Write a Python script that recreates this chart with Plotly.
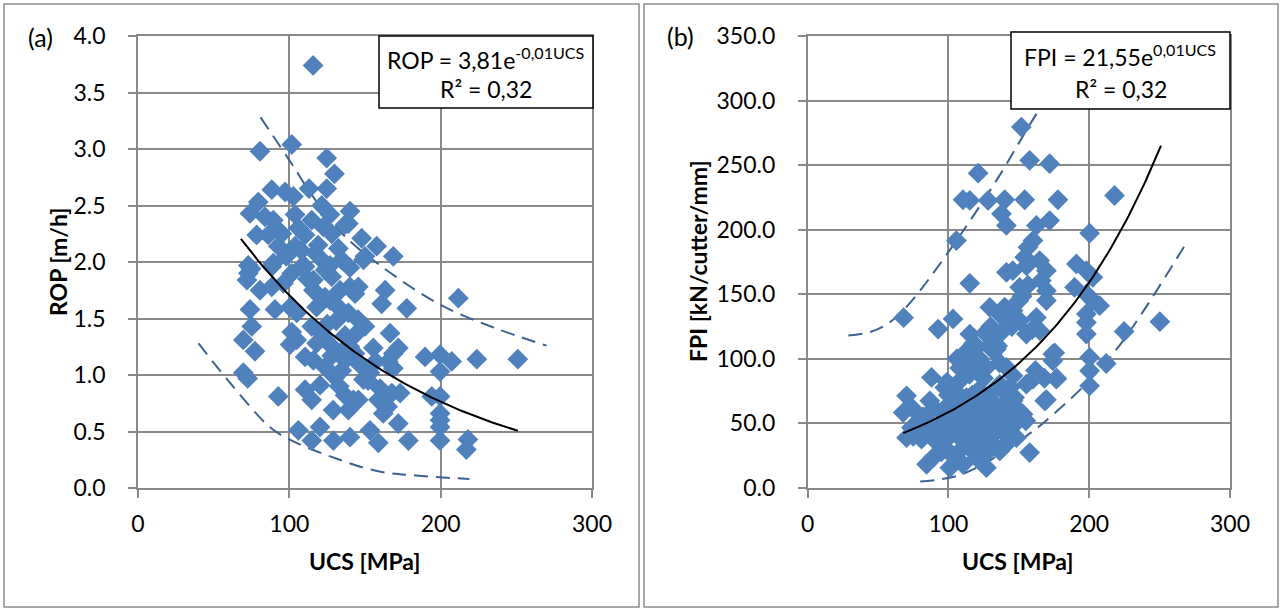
import numpy as np
import plotly.graph_objects as go

# ---------------- data: panel (a) ----------------
ucs_a = [115.7, 80.6, 101.6, 124.7, 129.8, 124.7, 113, 88.4, 97.2, 102.7, 79.5, 74, 83.9, 89.4, 103.8,
         121.4, 114.8, 140.1, 139, 78.4, 86.1, 92.7, 106, 110.4, 122.5, 128, 147.8, 92.7, 103.8, 117,
         132.4, 134.6, 150, 72.9, 89.4, 108.2, 123.6,
         211.7, 189.7, 199.6, 207.3, 223.9, 251, 199.6, 194.1, 199.6, 199.6, 199.6, 199.6, 199.6, 218,
         217, 168.7, 157.7, 149, 163.3, 161, 177.6, 149, 142.3, 155.5, 166.6, 172, 168.7, 165.4, 168.7,
         153.3, 149, 167.7, 173.2, 158.8, 162.1, 172, 153.3, 158.8, 178.7, 140.1, 142.3,
         72.9, 88.4, 80.6, 88.4, 96, 74, 90.5, 100.5, 104.9, 75.2, 69.6, 77.3, 101.6, 100.5, 104.9, 69.6,
         92.7, 110.4, 114.8, 106, 114.8, 120.3, 129.1, 110.4, 115.9, 123.6, 130.2, 134.6, 135.7, 121.4,
         114.8, 123.6, 115.9, 140.1, 145.6, 132.4, 139, 150, 143.4, 145.6, 139, 110.4, 123.6, 115.9,
         101.6, 128, 143.4,
         126.9, 136.8, 119, 126.9, 140, 133.5, 126.9, 145.4, 136.8, 126.9, 136.8, 146.7, 120.3, 136.8,
         128.9, 72.5, 72, 74.7,
         95, 98, 108, 112, 118, 131, 125, 118, 128, 140, 133, 152, 157, 160, 165]
rop_a = [3.74, 2.98, 3.04, 2.92, 2.78, 2.65, 2.65, 2.64, 2.62, 2.58, 2.53, 2.43, 2.40, 2.37, 2.42,
         2.50, 2.37, 2.45, 2.34, 2.24, 2.24, 2.28, 2.30, 2.24, 2.31, 2.25, 2.21, 2.14, 2.14, 2.08,
         2.12, 2.02, 2.05, 1.97, 1.99, 1.96, 1.99,
         1.68, 1.16, 1.18, 1.12, 1.14, 1.14, 1.03, 0.81, 0.81, 0.66, 0.60, 0.54, 0.42, 0.43,
         0.34, 2.05, 2.14, 2.02, 1.75, 1.63, 1.59, 1.43, 1.34, 1.24, 1.37, 1.24, 1.19, 1.12, 1.06,
         1.02, 0.96, 0.84, 0.84, 0.78, 0.66, 0.57, 0.51, 0.40, 0.42, 0.45, 0.78,
         1.90, 1.96, 1.75, 1.78, 1.81, 1.58, 1.58, 1.60, 1.55, 1.43, 1.31, 1.21, 1.38, 1.27, 1.31, 1.02,
         0.81, 0.87, 0.78, 0.51, 0.42, 0.54, 0.42, 1.16, 1.13, 1.07, 0.98, 1.04, 1.22, 1.37,
         1.43, 1.69, 1.75, 1.78, 1.78, 1.60, 1.55, 1.43, 1.19, 0.78, 0.69, 1.96, 1.93, 1.84,
         1.90, 1.87, 1.72,
         2.42, 2.33, 2.15, 1.97, 1.95, 1.75, 1.66, 1.49, 1.35, 1.27, 1.13, 1.09, 0.91, 0.82,
         0.69, 0.97, 1.84, 1.94,
         2.25, 2.05, 2.10, 1.85, 1.60, 1.48, 1.45, 1.28, 1.17, 1.25, 0.90, 0.95, 1.12, 0.88, 0.72]

# trend line (a): ROP = 3,81e^-0,01UCS (unrounded exponent)
trend_a_coef = 3.81
trend_a_exp = -0.00804
trend_a_range = [68, 251]

# dashed bands (a)
band_a_up_x = [81, 103, 114, 135, 160, 200, 235, 270]
band_a_up_y = [3.28, 2.84, 2.61, 2.25, 1.97, 1.62, 1.42, 1.26]
band_a_lo_x = [40, 59, 87, 100, 127, 158, 184, 219]
band_a_lo_y = [1.28, 0.96, 0.54, 0.43, 0.28, 0.15, 0.11, 0.08]

# ---------------- data: panel (b) ----------------
ucs_b = [151.8, 157.7, 171.9, 121.1, 110.4, 115.2, 128.2, 140, 154.2, 177.8, 218, 137.7, 141.2, 171.9,
         162.5, 105.7, 200.3, 160.1, 156.5, 154.2, 155.5, 164.8, 169.6, 190.9, 198, 202.6, 141.2, 150.6,
         156.5, 166, 169.6, 169.6, 115.2, 189.6, 198, 202.6, 207.4, 198, 198, 198, 103.3, 92.7, 129.4,
         136.5, 145.9, 150.6, 162.5, 164.8, 115.2, 136.5, 155.4, 120, 134.1, 174.2,
         174.2, 160.1, 176.7, 168.4, 200.3, 212.1, 200.3, 200.3, 157.7, 148.3, 145.9,
         224.8, 250.2, 68.2,
         70.3, 88, 67.9, 75, 73.8, 70.3, 84.5, 86.8, 97.4, 108.1, 101, 112.8, 80.9, 91.6, 101, 110.4,
         118.7, 124.6, 129.4, 136.5, 141.2, 127, 115.2, 131.8, 145.9, 143.5, 136.5, 129.4, 122.3, 115.2,
         108.1, 97.4, 89.1, 84.5, 101, 110.4, 127, 120, 136.5, 148.3, 153, 155.4,
         115, 95, 120, 130, 105, 140, 90, 100, 125, 115, 135, 120, 130, 140, 138, 145, 150, 112, 105,
         98, 85, 78, 92, 118, 108, 132, 145, 150, 155,
         136.3, 121.8, 133.4, 145.7, 152.3, 159.5, 168.2, 161.8, 169.6, 175.5, 176.9,
         75, 80, 82, 88, 93, 96, 99, 102, 104, 107, 109, 111, 113, 116, 117, 119, 121, 123, 124, 126,
         128, 131, 133, 134, 137, 139, 141, 142, 144, 147, 103, 95, 106, 118, 122, 126, 131, 112, 108, 99]
fpi_b = [279.5, 253.7, 251.1, 243.8, 223.2, 222.7, 222.7, 223.2, 223.2, 223.2, 226.5, 212.3, 203.3, 207.1,
         203.3, 191.6, 197.3, 191.6, 186.4, 178.7, 172, 176.1, 168.3, 173.5, 168.3, 163.1, 167, 155.4,
         157, 160.6, 152.8, 145.1, 158.5, 155.4, 150.3, 145.1, 141.2, 134.8, 128.2, 119.2, 130.9, 123.1, 139.9,
         134.8, 137.3, 129.6, 132.1, 121.8, 119.2, 119.2, 119.2, 108.8, 107.6, 103.7,
         98.5, 84.3, 84.3, 67.5, 101.1, 96.4, 90.8, 79.1, 27.4, 58.4, 86.9,
         121.2, 128.8, 131.9,
         71.4, 85.6, 58.4, 61, 46.8, 39, 52, 67.5, 77.8, 83, 64.9, 70, 37.8, 41.7, 44.2, 52,
         54.5, 62.3, 72.7, 80.4, 93.3, 93.3, 101.1, 106.3, 67.5, 54.5, 46.8, 36.5, 31.3, 36.5,
         28.7, 31.3, 23.5, 18.4, 15.7, 18.4, 15.7, 23.5, 28.7, 39, 57.2, 80.4,
         55, 50, 65, 48, 60, 42, 62, 72, 85, 88, 110, 95, 125, 140, 133, 125, 145, 105, 75,
         55, 45, 50, 35, 40, 45, 58, 47, 60, 52,
         97, 76, 119.7, 168.3, 148.4, 122.7, 85, 91, 68.4, 104.7, 85,
         40, 45, 55, 48, 42, 60, 38, 50, 68, 58, 38, 62, 45, 30, 72, 48, 58, 42, 52, 68,
         28, 40, 65, 52, 62, 75, 48, 35, 78, 70, 25, 28, 100, 112, 100, 120, 112, 90, 93, 82]

trend_b_coef = 21.55
trend_b_exp = 0.01
trend_b_range = [68, 251]

band_b_up_x = [29, 45, 58, 70, 80, 106, 134, 161, 172]
band_b_up_y = [118, 121, 128, 140, 153, 192, 238, 287, 305]
band_b_lo_x = [80, 106, 129, 139, 155, 167, 199, 224, 268]
band_b_lo_y = [5, 9.3, 21, 28.7, 40, 50, 82, 114, 188]

# ---------------- styling ----------------
W, H = 1281, 610
FONT = "Lato"
BLUE = "#4F81BD"
DASH_C = "#3B6290"
GRID = "#898989"


def px(x):
    return x / W


def py(y):
    return 1 - y / H


fig = go.Figure()


def add_panel(xs, ys, tc, te, trng, ux, uy, lx, ly, xa, ya):
    for bx, by in ((ux, uy), (lx, ly)):
        fig.add_trace(go.Scatter(x=bx, y=by, mode="lines",
                                 line=dict(color=DASH_C, width=2, dash="14px,8px", shape="spline"),
                                 xaxis=xa, yaxis=ya, hoverinfo="skip"))
    fig.add_trace(go.Scatter(x=xs, y=ys, mode="markers",
                             marker=dict(symbol="diamond", size=16, color=BLUE, line=dict(width=0)),
                             xaxis=xa, yaxis=ya))
    tx = np.linspace(trng[0], trng[1], 120)
    fig.add_trace(go.Scatter(x=tx, y=tc * np.exp(te * tx), mode="lines", line=dict(color="black", width=2),
                             xaxis=xa, yaxis=ya, hoverinfo="skip"))


add_panel(ucs_a, rop_a, trend_a_coef, trend_a_exp, trend_a_range,
          band_a_up_x, band_a_up_y, band_a_lo_x, band_a_lo_y, "x", "y")
add_panel(ucs_b, fpi_b, trend_b_coef, trend_b_exp, trend_b_range,
          band_b_up_x, band_b_up_y, band_b_lo_x, band_b_lo_y, "x2", "y2")

axis_common = dict(showgrid=True, gridcolor=GRID, gridwidth=1.5, showline=True, linecolor=GRID, linewidth=1.5,
                   mirror=True, zeroline=False, ticks="outside", ticklen=8, tickcolor=GRID, tickwidth=1.5,
                   automargin=False, tickfont=dict(family=FONT, size=23, color="black"))

fig.update_layout(
    width=W, height=H, margin=dict(l=0, r=0, t=0, b=0, autoexpand=False),
    paper_bgcolor="white", plot_bgcolor="white", showlegend=False,
    xaxis=dict(domain=[px(138), px(592)], range=[0, 300], dtick=100, anchor="y",
               ticklabelstandoff=7, **axis_common),
    yaxis=dict(domain=[py(488), py(36)], range=[0, 4], dtick=0.5, tickformat=".1f", anchor="x",
               ticklabelstandoff=18, **axis_common),
    xaxis2=dict(domain=[px(807.6), px(1230)], range=[0, 300], dtick=100, anchor="y2",
                ticklabelstandoff=7, **axis_common),
    yaxis2=dict(domain=[py(488), py(36)], range=[0, 350], dtick=50, tickformat=".1f", anchor="x2",
                ticklabelstandoff=18, **axis_common),
)

shapes = [
    dict(type="rect", xref="paper", yref="paper", x0=px(4), x1=px(639), y0=py(607), y1=py(4),
         line=dict(color="#8C8C8C", width=1.5), fillcolor="rgba(0,0,0,0)", layer="below"),
    dict(type="rect", xref="paper", yref="paper", x0=px(644), x1=px(1278), y0=py(607), y1=py(4),
         line=dict(color="#8C8C8C", width=1.5), fillcolor="rgba(0,0,0,0)", layer="below"),
    dict(type="rect", xref="paper", yref="paper", x0=px(379), x1=px(593), y0=py(108), y1=py(36),
         line=dict(color="black", width=1.5), fillcolor="white", layer="above"),
    dict(type="rect", xref="paper", yref="paper", x0=px(1011), x1=px(1230), y0=py(109), y1=py(32),
         line=dict(color="black", width=1.5), fillcolor="white", layer="above"),
]
fig.update_layout(shapes=shapes)


def ann(x, y, text, size=23, bold=False, angle=0):
    t = f"<b>{text}</b>" if bold else text
    fig.add_annotation(xref="paper", yref="paper", x=px(x), y=py(y), text=t, showarrow=False,
                       xanchor="center", yanchor="middle", textangle=angle,
                       font=dict(family=FONT, size=size, color="black"))


ann(40, 37, "(a)", size=25)
ann(680, 36, "(b)", size=25)
ann(486, 58, "ROP = 3,81e<sup>-0,01UCS</sup>")
ann(486, 89, "R² = 0,32")
ann(1120, 56, "FPI = 21,55e<sup>0,01UCS</sup>")
ann(1121, 89, "R² = 0,32")
ann(365, 561, "UCS [MPa]", bold=True)
ann(1018, 561, "UCS [MPa]", bold=True)
ann(58, 262, "ROP [m/h]", bold=True, angle=-90)
ann(698, 261, "FPI [kN/cutter/mm]", bold=True, angle=-90)

fig.write_html("out.html", config={"displayModeBar": False},
               post_script="document.body.style.margin='0';document.body.style.overflow='hidden';")
